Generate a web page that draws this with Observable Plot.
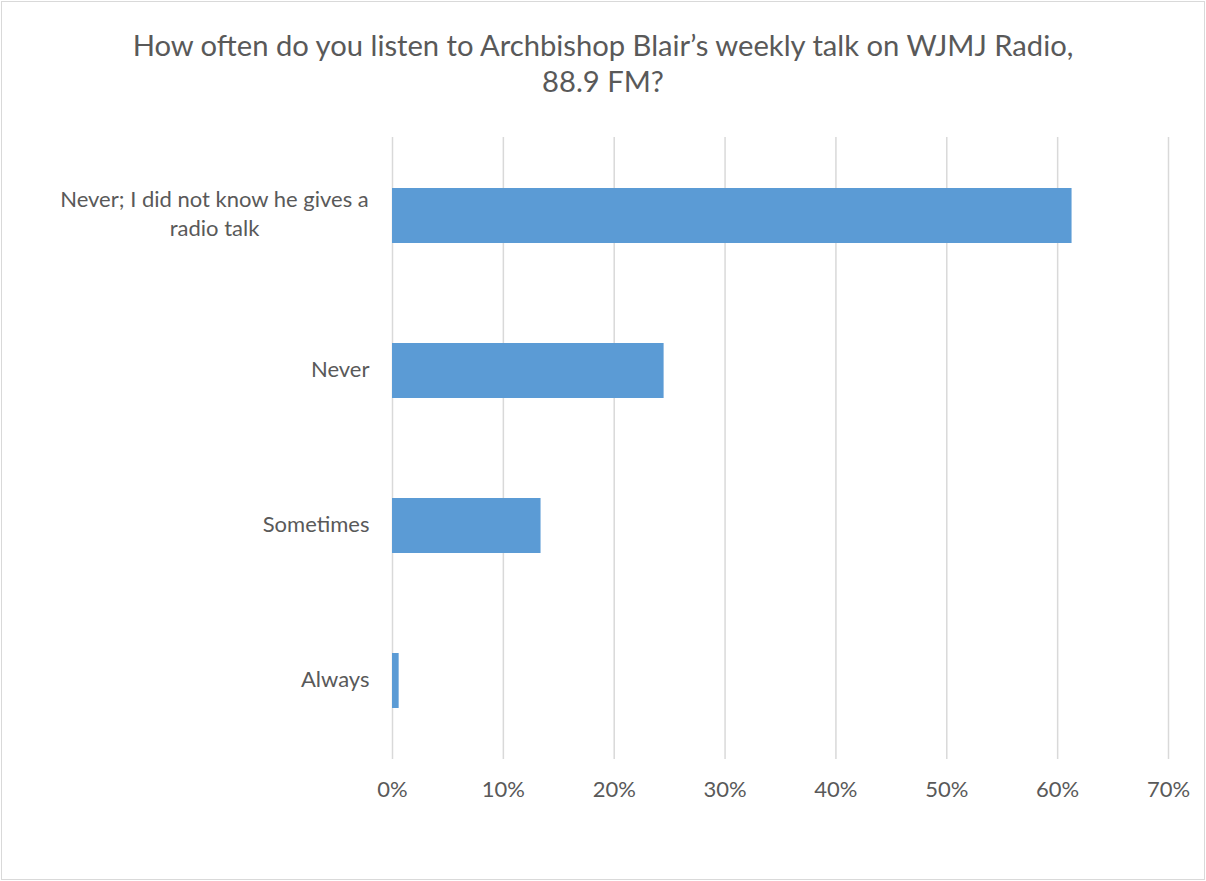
<!DOCTYPE html>
<html><head><meta charset="utf-8">
<script src="https://cdn.jsdelivr.net/npm/d3@7"></script>
<script src="https://cdn.jsdelivr.net/npm/@observablehq/plot@0.6"></script>
<style>
body{margin:0;background:#fff;}
#frame{position:absolute;left:1px;top:1px;width:1202px;height:877px;border:1px solid #d9d9d9;background:#fff;}
#title{position:absolute;left:0;top:27px;width:1206px;text-align:center;color:#595959;font-family:Lato,"Open Sans",sans-serif;line-height:36px;}
#chart{position:absolute;left:0;top:100px;}
</style></head>
<body>
<div id="frame"></div>
<div id="title">How often do you listen to Archbishop Blair’s weekly talk on WJMJ Radio,<br>88.9 FM?</div>
<div id="chart"></div>
<script>
const categories = ["Never; I did not know he gives a\nradio talk", "Never", "Sometimes", "Always"];
const values = [61.3, 24.5, 13.4, 0.6];
const xTicks = [0, 10, 20, 30, 40, 50, 60, 70];

const FONT = "Lato, 'Open Sans', sans-serif";
const ctx = document.createElement("canvas").getContext("2d");
function fit(text, target, base) {
  ctx.font = base + "px Lato";
  const w = ctx.measureText(text).width;
  return base * target / w;
}
const titleSize = fit("How often do you listen to Archbishop Blair’s weekly talk on WJMJ Radio,", 945, 24);
document.getElementById("title").style.fontSize = titleSize.toFixed(2) + "px";
const labelSize = fit("Never; I did not know he gives a", 309, 18);

const data = categories.map((c, i) => ({cat: c, value: values[i]}));
const single = data.slice(1);
const multi = data.slice(0, 1);

const chart = Plot.plot({
  width: 1206,
  height: 740,
  marginLeft: 392,
  marginRight: 38,
  marginTop: 37,
  marginBottom: 81,
  style: {fontFamily: FONT, fontSize: labelSize.toFixed(2) + "px", color: "#595959", background: "transparent"},
  x: {domain: [0, 70], ticks: xTicks, tickFormat: d => d + "%", label: null},
  y: {domain: categories, paddingInner: 0.645, paddingOuter: 0.3225, axis: null, label: null},
  marks: [
    Plot.gridX(xTicks, {stroke: "#d9d9d9", strokeOpacity: 1, strokeWidth: 1.5}),
    Plot.axisX({ticks: xTicks, tickSize: 0, tickPadding: 22, tickFormat: d => d + "%", label: null, fill: "#595959"}),
    Plot.barX(data, {y: "cat", x: "value", fill: "#5B9BD5"}),
    Plot.text(single, {y: "cat", text: "cat", frameAnchor: "left", textAnchor: "end", dx: -23, dy: -1, fill: "#595959"}),
    Plot.text(multi, {y: "cat", text: "cat", frameAnchor: "left", textAnchor: "middle", dx: -178, dy: -4, lineHeight: 1.35, fill: "#595959"})
  ]
});
document.getElementById("chart").appendChild(chart);
</script>
</body></html>
